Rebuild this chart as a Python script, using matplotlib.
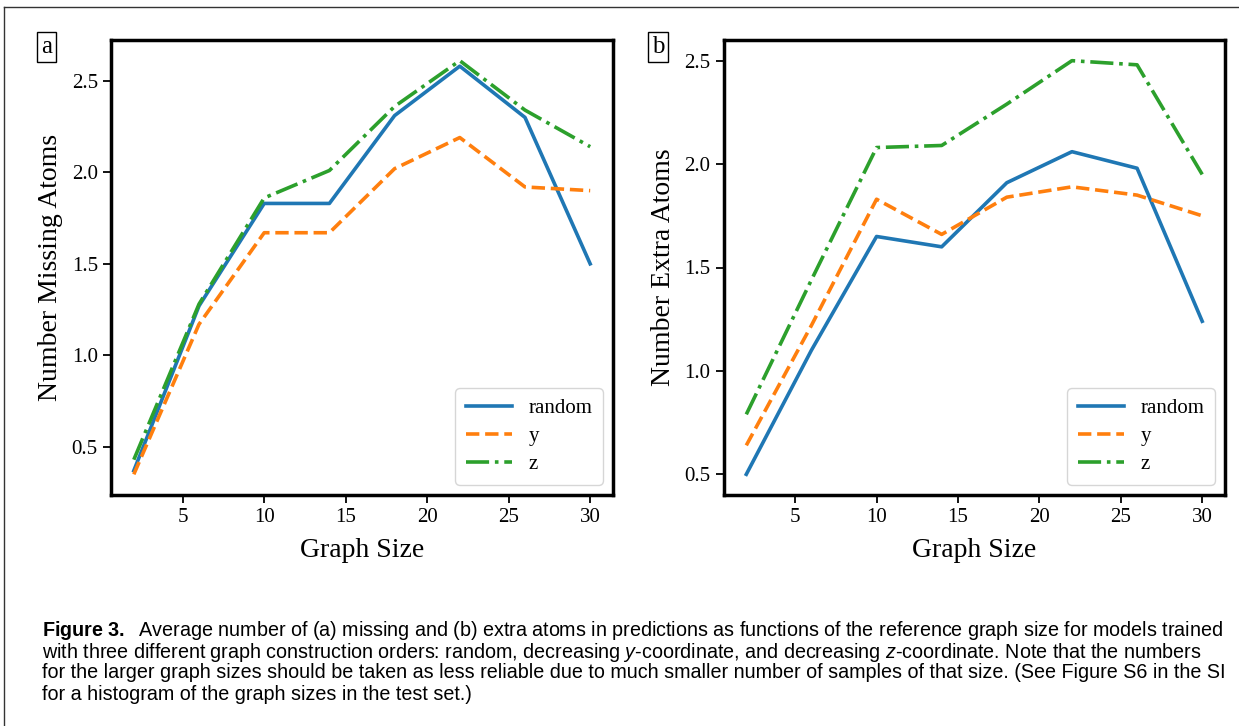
import matplotlib
matplotlib.use("Agg")
import matplotlib.pyplot as plt
from matplotlib.lines import Line2D

plt.rcParams['font.family'] = ['Liberation Serif', 'DejaVu Serif']
plt.rcParams['mathtext.fontset'] = 'custom'
plt.rcParams['mathtext.rm'] = 'Liberation Sans'
plt.rcParams['mathtext.it'] = 'Liberation Sans:italic'
plt.rcParams['mathtext.bf'] = 'Liberation Sans:bold'

# graph sizes on the x axis
sizes = [2, 6, 10, 14, 18, 22, 26, 30]

# (a) missing atoms
missing_random = [0.37, 1.27, 1.83, 1.83, 2.31, 2.58, 2.30, 1.50]
missing_y = [0.35, 1.17, 1.67, 1.67, 2.02, 2.19, 1.92, 1.90]
missing_z = [0.43, 1.28, 1.86, 2.01, 2.36, 2.61, 2.34, 2.14]

# (b) extra atoms
extra_random = [0.50, 1.10, 1.65, 1.60, 1.91, 2.06, 1.98, 1.24]
extra_y = [0.64, 1.22, 1.83, 1.66, 1.84, 1.89, 1.85, 1.75]
extra_z = [0.79, 1.44, 2.08, 2.09, 2.29, 2.50, 2.48, 1.95]

series_names = ['random', 'y', 'z']
colors = ['#1f77b4', '#ff7f0e', '#2ca02c']
styles = ['-', '--', '-.']

fig = plt.figure(figsize=(12.39, 7.26), dpi=100)

# outer frame of the figure box
fig.add_artist(Line2D([4 / 1239, 4 / 1239], [0, 1 - 7 / 726], transform=fig.transFigure,
                      color='#333333', lw=1))
fig.add_artist(Line2D([4 / 1239, 1], [1 - 7 / 726, 1 - 7 / 726], transform=fig.transFigure,
                      color='#333333', lw=1))

ax_a = fig.add_axes([111 / 1239, 1 - 495 / 726, 502 / 1239, 455 / 726])
ax_b = fig.add_axes([723.5 / 1239, 1 - 495 / 726, 501.5 / 1239, 455 / 726])

panels = [
    (ax_a, [missing_random, missing_y, missing_z], 'Number Missing Atoms', 'a'),
    (ax_b, [extra_random, extra_y, extra_z], 'Number Extra Atoms', 'b'),
]

for ax, data, ylabel, tag in panels:
    for vals, name, c, ls in zip(data, series_names, colors, styles):
        ax.plot(sizes, vals, ls, color=c, lw=2.6, label=name)
    ax.set_xticks([5, 10, 15, 20, 25, 30])
    ax.set_yticks([0.5, 1.0, 1.5, 2.0, 2.5])
    ax.tick_params(labelsize=15, length=6, width=1.3, direction='out')
    for sp in ax.spines.values():
        sp.set_linewidth(2.5)
    ax.set_xlabel('Graph Size', fontsize=20, labelpad=8)
    ax.set_ylabel(ylabel, fontsize=20, labelpad=6)
    ax.legend(loc='lower right', fontsize=15, handlelength=2.2, borderpad=0.5,
              labelspacing=0.4)

fig.text(41 / 1239, 1 - 47 / 726, 'a', fontsize=18, va='center', ha='left',
         bbox=dict(boxstyle='square,pad=0.15', fc='white', ec='black', lw=1))
fig.text(652 / 1239, 1 - 47 / 726, 'b', fontsize=18, va='center', ha='left',
         bbox=dict(boxstyle='square,pad=0.15', fc='white', ec='black', lw=1))

caption = [
    r"$\mathbf{Figure\ 3.}$  Average number of (a) missing and (b) extra atoms in predictions as functions of the reference graph size for models trained",
    r"with three different graph construction orders: random, decreasing $\mathit{y}$-coordinate, and decreasing $\mathit{z}$-coordinate. Note that the numbers",
    "for the larger graph sizes should be taken as less reliable due to much smaller number of samples of that size. (See Figure S6 in the SI",
    "for a histogram of the graph sizes in the test set.)",
]
for i, line in enumerate(caption):
    fig.text(42 / 1239, 1 - (631 + 21 * i) / 726, line, fontsize=14.2,
             family='Liberation Sans', va='center', ha='left')

fig.savefig('out.png', dpi=100)
